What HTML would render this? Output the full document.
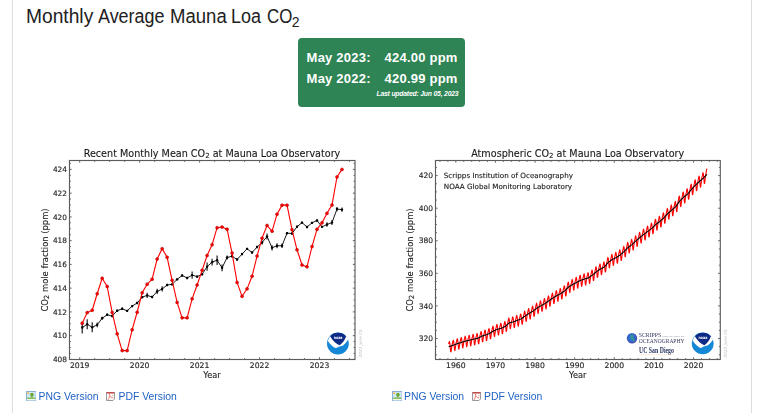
<!DOCTYPE html>
<html><head><meta charset="utf-8">
<style>
html,body{margin:0;padding:0;background:#fff;}
body{width:757px;height:413px;overflow:hidden;position:relative;font-family:"Liberation Sans",Arial,sans-serif;}
.vb{position:absolute;top:0;width:1px;height:413px;background:#dedede;}
h1{position:absolute;left:0;top:0;margin:0;font-weight:normal;font-size:20px;line-height:1;color:#212121;white-space:nowrap;}
.w{position:absolute;top:6.2px;transform-origin:0 0;}
h1 sub.w{font-size:14px;top:14.9px;vertical-align:baseline;}
.box{position:absolute;left:298px;top:38px;width:167px;height:68.5px;background:#2e8454;border-radius:4px;color:#fff;}
.row{position:absolute;font-weight:bold;font-size:13px;letter-spacing:0.22px;line-height:1;white-space:nowrap;}
.upd{position:absolute;right:6.6px;top:89px;font-weight:bold;font-style:italic;font-size:6.8px;letter-spacing:-0.19px;line-height:1;white-space:nowrap;}
svg{position:absolute;left:0;top:0;will-change:transform;}
.tl text{font-family:"DejaVu Sans",sans-serif;font-size:7.7px;fill:#262626;stroke:#262626;stroke-width:0.15px;}
.ttl{font-family:"DejaVu Sans",sans-serif;font-size:9.63px;fill:#1a1a1a;stroke:#1a1a1a;stroke-width:0.12px;}
.sub{font-size:7px;}
.yl{font-family:"DejaVu Sans",sans-serif;font-size:8.4px;fill:#1a1a1a;stroke:#1a1a1a;stroke-width:0.12px;}
.dt{font-family:"DejaVu Sans",sans-serif;font-size:4.25px;font-style:italic;fill:#bdbdbd;}
.sc{font-family:"DejaVu Sans",sans-serif;font-size:7.2px;fill:#1a1a1a;stroke:#1a1a1a;stroke-width:0.12px;}
.lk{position:absolute;top:391px;font-size:10.4px;color:#1f62c4;white-space:nowrap;line-height:12px;}
.ic{position:absolute;top:391px;width:10px;height:10px;}
</style></head><body>
<div class="vb" style="left:12px"></div>
<div class="vb" style="left:751px"></div>
<h1 id="ttl"><span class="w" style="left:26.1px;transform:scaleX(0.96)">Monthly</span> <span class="w" style="left:98.4px;transform:scaleX(0.896)">Average</span> <span class="w" style="left:169.7px;transform:scaleX(0.927)">Mauna</span> <span class="w" style="left:231.2px;transform:scaleX(0.898)">Loa</span> <span class="w" style="left:267.1px;transform:scaleX(0.845)">CO</span> <sub class="w" style="left:291.8px">2</sub></h1>
<div class="box">
<div class="row" style="left:8.6px;top:13.3px">May 2023:</div>
<div class="row" style="left:86.6px;top:13.3px">424.00 ppm</div>
<div class="row" style="left:8.6px;top:34px">May 2022:</div>
<div class="row" style="left:86.6px;top:34px">420.99 ppm</div>
<div class="upd" style="top:52.6px">Last updated: Jun 05, 2023</div>
</div>
<svg width="757" height="413" viewBox="0 0 757 413">
<path d="M79.70 359.5v-2.2M79.70 160.5v2.2M139.65 359.5v-2.2M139.65 160.5v2.2M199.60 359.5v-2.2M199.60 160.5v2.2M259.55 359.5v-2.2M259.55 160.5v2.2M319.50 359.5v-2.2M319.50 160.5v2.2M94.69 359.5v-1.4M94.69 160.5v1.4M109.68 359.5v-1.4M109.68 160.5v1.4M124.66 359.5v-1.4M124.66 160.5v1.4M154.64 359.5v-1.4M154.64 160.5v1.4M169.62 359.5v-1.4M169.62 160.5v1.4M184.61 359.5v-1.4M184.61 160.5v1.4M214.59 359.5v-1.4M214.59 160.5v1.4M229.57 359.5v-1.4M229.57 160.5v1.4M244.56 359.5v-1.4M244.56 160.5v1.4M274.54 359.5v-1.4M274.54 160.5v1.4M289.53 359.5v-1.4M289.53 160.5v1.4M304.51 359.5v-1.4M304.51 160.5v1.4M334.49 359.5v-1.4M334.49 160.5v1.4M349.48 359.5v-1.4M349.48 160.5v1.4M69.5 359.40h2.2M355.0 359.40h-2.2M69.5 335.65h2.2M355.0 335.65h-2.2M69.5 311.90h2.2M355.0 311.90h-2.2M69.5 288.15h2.2M355.0 288.15h-2.2M69.5 264.40h2.2M355.0 264.40h-2.2M69.5 240.65h2.2M355.0 240.65h-2.2M69.5 216.90h2.2M355.0 216.90h-2.2M69.5 193.15h2.2M355.0 193.15h-2.2M69.5 169.40h2.2M355.0 169.40h-2.2M69.5 353.46h1.4M355.0 353.46h-1.4M69.5 347.52h1.4M355.0 347.52h-1.4M69.5 341.59h1.4M355.0 341.59h-1.4M69.5 329.71h1.4M355.0 329.71h-1.4M69.5 323.77h1.4M355.0 323.77h-1.4M69.5 317.84h1.4M355.0 317.84h-1.4M69.5 305.96h1.4M355.0 305.96h-1.4M69.5 300.02h1.4M355.0 300.02h-1.4M69.5 294.09h1.4M355.0 294.09h-1.4M69.5 282.21h1.4M355.0 282.21h-1.4M69.5 276.27h1.4M355.0 276.27h-1.4M69.5 270.34h1.4M355.0 270.34h-1.4M69.5 258.46h1.4M355.0 258.46h-1.4M69.5 252.52h1.4M355.0 252.52h-1.4M69.5 246.59h1.4M355.0 246.59h-1.4M69.5 234.71h1.4M355.0 234.71h-1.4M69.5 228.77h1.4M355.0 228.77h-1.4M69.5 222.84h1.4M355.0 222.84h-1.4M69.5 210.96h1.4M355.0 210.96h-1.4M69.5 205.02h1.4M355.0 205.02h-1.4M69.5 199.09h1.4M355.0 199.09h-1.4M69.5 187.21h1.4M355.0 187.21h-1.4M69.5 181.27h1.4M355.0 181.27h-1.4M69.5 175.34h1.4M355.0 175.34h-1.4M69.5 163.46h1.4M355.0 163.46h-1.4" stroke="#444" stroke-width="0.8" fill="none"/>
<rect x="69.5" y="160.5" width="285.5" height="199.0" fill="none" stroke="#5c5c5c" stroke-width="1.15"/>
<path d="M82.20 321.64V333.51M87.19 319.26V329.24M92.19 322.35V332.33M97.19 322.47V327.22M102.18 316.77V319.62M107.18 313.56V315.94M112.17 314.87V317.24M117.17 309.52V311.90M122.16 307.62V310.00M127.16 309.64V312.02M132.16 304.89V307.27M137.15 301.81V304.18M142.15 295.99V298.36M147.14 292.78V298.01M152.14 295.87V298.24M157.14 288.86V294.09M162.13 286.37V291.59M167.13 283.87V286.25M172.12 283.16V285.54M177.12 278.17V280.55M182.11 274.26V276.63M187.11 276.87V279.24M192.11 271.52V278.65M197.10 275.44V277.82M202.10 273.07V275.44M207.09 262.62V270.69M212.09 258.82V265.47M217.09 255.49V264.99M222.08 264.40V271.29M227.08 255.49V259.53M232.07 255.02V257.39M237.07 258.34V260.72M242.06 252.88V255.26M247.06 247.66V250.03M252.06 251.34V253.71M257.05 245.87V248.25M262.05 240.53V244.57M267.04 233.52V239.46M272.04 245.16V250.39M277.04 243.14V248.37M282.03 243.62V247.89M287.03 231.98V234.36M292.02 232.34V234.71M297.02 225.57V227.94M302.01 221.41V223.79M307.01 225.81V228.18M312.01 221.65V224.03M317.00 219.27V221.65M322.00 225.69V228.06M326.99 222.36V226.64M331.99 220.11V225.09M336.99 206.92V211.20M341.98 207.52V211.79" stroke="#000" stroke-width="1.05"/>
<polyline points="82.20,327.57 87.19,324.25 92.19,327.34 97.19,324.84 102.18,318.19 107.18,314.75 112.17,316.06 117.17,310.71 122.16,308.81 127.16,310.83 132.16,306.08 137.15,302.99 142.15,297.17 147.14,295.39 152.14,297.06 157.14,291.47 162.13,288.98 167.13,285.06 172.12,284.35 177.12,279.36 182.11,275.44 187.11,278.06 192.11,275.09 197.10,276.63 202.10,274.26 207.09,266.66 212.09,262.14 217.09,260.24 222.08,267.84 227.08,257.51 232.07,256.21 237.07,259.53 242.06,254.07 247.06,248.84 252.06,252.52 257.05,247.06 262.05,242.55 267.04,236.49 272.04,247.78 277.04,245.76 282.03,245.76 287.03,233.17 292.02,233.52 297.02,226.76 302.01,222.60 307.01,226.99 312.01,222.84 317.00,220.46 322.00,226.87 326.99,224.50 331.99,222.60 336.99,209.06 341.98,209.66" fill="none" stroke="#000" stroke-width="0.9"/>
<circle cx="82.20" cy="327.57" r="1.2" fill="#000"/><circle cx="87.19" cy="324.25" r="1.2" fill="#000"/><circle cx="92.19" cy="327.34" r="1.2" fill="#000"/><circle cx="97.19" cy="324.84" r="1.2" fill="#000"/><circle cx="102.18" cy="318.19" r="1.2" fill="#000"/><circle cx="107.18" cy="314.75" r="1.2" fill="#000"/><circle cx="112.17" cy="316.06" r="1.2" fill="#000"/><circle cx="117.17" cy="310.71" r="1.2" fill="#000"/><circle cx="122.16" cy="308.81" r="1.2" fill="#000"/><circle cx="127.16" cy="310.83" r="1.2" fill="#000"/><circle cx="132.16" cy="306.08" r="1.2" fill="#000"/><circle cx="137.15" cy="302.99" r="1.2" fill="#000"/><circle cx="142.15" cy="297.17" r="1.2" fill="#000"/><circle cx="147.14" cy="295.39" r="1.2" fill="#000"/><circle cx="152.14" cy="297.06" r="1.2" fill="#000"/><circle cx="157.14" cy="291.47" r="1.2" fill="#000"/><circle cx="162.13" cy="288.98" r="1.2" fill="#000"/><circle cx="167.13" cy="285.06" r="1.2" fill="#000"/><circle cx="172.12" cy="284.35" r="1.2" fill="#000"/><circle cx="177.12" cy="279.36" r="1.2" fill="#000"/><circle cx="182.11" cy="275.44" r="1.2" fill="#000"/><circle cx="187.11" cy="278.06" r="1.2" fill="#000"/><circle cx="192.11" cy="275.09" r="1.2" fill="#000"/><circle cx="197.10" cy="276.63" r="1.2" fill="#000"/><circle cx="202.10" cy="274.26" r="1.2" fill="#000"/><circle cx="207.09" cy="266.66" r="1.2" fill="#000"/><circle cx="212.09" cy="262.14" r="1.2" fill="#000"/><circle cx="217.09" cy="260.24" r="1.2" fill="#000"/><circle cx="222.08" cy="267.84" r="1.2" fill="#000"/><circle cx="227.08" cy="257.51" r="1.2" fill="#000"/><circle cx="232.07" cy="256.21" r="1.2" fill="#000"/><circle cx="237.07" cy="259.53" r="1.2" fill="#000"/><circle cx="242.06" cy="254.07" r="1.2" fill="#000"/><circle cx="247.06" cy="248.84" r="1.2" fill="#000"/><circle cx="252.06" cy="252.52" r="1.2" fill="#000"/><circle cx="257.05" cy="247.06" r="1.2" fill="#000"/><circle cx="262.05" cy="242.55" r="1.2" fill="#000"/><circle cx="267.04" cy="236.49" r="1.2" fill="#000"/><circle cx="272.04" cy="247.78" r="1.2" fill="#000"/><circle cx="277.04" cy="245.76" r="1.2" fill="#000"/><circle cx="282.03" cy="245.76" r="1.2" fill="#000"/><circle cx="287.03" cy="233.17" r="1.2" fill="#000"/><circle cx="292.02" cy="233.52" r="1.2" fill="#000"/><circle cx="297.02" cy="226.76" r="1.2" fill="#000"/><circle cx="302.01" cy="222.60" r="1.2" fill="#000"/><circle cx="307.01" cy="226.99" r="1.2" fill="#000"/><circle cx="312.01" cy="222.84" r="1.2" fill="#000"/><circle cx="317.00" cy="220.46" r="1.2" fill="#000"/><circle cx="322.00" cy="226.87" r="1.2" fill="#000"/><circle cx="326.99" cy="224.50" r="1.2" fill="#000"/><circle cx="331.99" cy="222.60" r="1.2" fill="#000"/><circle cx="336.99" cy="209.06" r="1.2" fill="#000"/><circle cx="341.98" cy="209.66" r="1.2" fill="#000"/>
<polyline points="82.20,323.30 87.19,312.61 92.19,310.24 97.19,293.73 102.18,278.29 107.18,286.49 112.17,312.38 117.17,333.87 122.16,350.61 127.16,350.61 132.16,329.71 137.15,312.26 142.15,292.78 147.14,284.23 152.14,279.13 157.14,259.06 162.13,248.73 167.13,257.27 172.12,280.31 177.12,302.40 182.11,317.84 187.11,317.84 192.11,298.84 197.10,284.94 202.10,270.34 207.09,255.49 212.09,244.69 217.09,227.71 222.08,227.11 227.08,229.25 232.07,253.12 237.07,282.45 242.06,296.34 247.06,288.86 252.06,276.27 257.05,256.09 262.05,238.16 267.04,225.45 272.04,231.15 277.04,214.17 282.03,205.14 287.03,205.14 292.02,229.72 297.02,249.79 302.01,264.99 307.01,266.77 312.01,246.59 317.00,229.25 322.00,222.84 326.99,213.34 331.99,205.02 336.99,176.88 341.98,169.40" fill="none" stroke="#f00" stroke-width="1.1"/>
<circle cx="82.20" cy="323.30" r="1.5" fill="#f00" stroke="#a00" stroke-width="0.5"/><circle cx="87.19" cy="312.61" r="1.5" fill="#f00" stroke="#a00" stroke-width="0.5"/><circle cx="92.19" cy="310.24" r="1.5" fill="#f00" stroke="#a00" stroke-width="0.5"/><circle cx="97.19" cy="293.73" r="1.5" fill="#f00" stroke="#a00" stroke-width="0.5"/><circle cx="102.18" cy="278.29" r="1.5" fill="#f00" stroke="#a00" stroke-width="0.5"/><circle cx="107.18" cy="286.49" r="1.5" fill="#f00" stroke="#a00" stroke-width="0.5"/><circle cx="112.17" cy="312.38" r="1.5" fill="#f00" stroke="#a00" stroke-width="0.5"/><circle cx="117.17" cy="333.87" r="1.5" fill="#f00" stroke="#a00" stroke-width="0.5"/><circle cx="122.16" cy="350.61" r="1.5" fill="#f00" stroke="#a00" stroke-width="0.5"/><circle cx="127.16" cy="350.61" r="1.5" fill="#f00" stroke="#a00" stroke-width="0.5"/><circle cx="132.16" cy="329.71" r="1.5" fill="#f00" stroke="#a00" stroke-width="0.5"/><circle cx="137.15" cy="312.26" r="1.5" fill="#f00" stroke="#a00" stroke-width="0.5"/><circle cx="142.15" cy="292.78" r="1.5" fill="#f00" stroke="#a00" stroke-width="0.5"/><circle cx="147.14" cy="284.23" r="1.5" fill="#f00" stroke="#a00" stroke-width="0.5"/><circle cx="152.14" cy="279.13" r="1.5" fill="#f00" stroke="#a00" stroke-width="0.5"/><circle cx="157.14" cy="259.06" r="1.5" fill="#f00" stroke="#a00" stroke-width="0.5"/><circle cx="162.13" cy="248.73" r="1.5" fill="#f00" stroke="#a00" stroke-width="0.5"/><circle cx="167.13" cy="257.27" r="1.5" fill="#f00" stroke="#a00" stroke-width="0.5"/><circle cx="172.12" cy="280.31" r="1.5" fill="#f00" stroke="#a00" stroke-width="0.5"/><circle cx="177.12" cy="302.40" r="1.5" fill="#f00" stroke="#a00" stroke-width="0.5"/><circle cx="182.11" cy="317.84" r="1.5" fill="#f00" stroke="#a00" stroke-width="0.5"/><circle cx="187.11" cy="317.84" r="1.5" fill="#f00" stroke="#a00" stroke-width="0.5"/><circle cx="192.11" cy="298.84" r="1.5" fill="#f00" stroke="#a00" stroke-width="0.5"/><circle cx="197.10" cy="284.94" r="1.5" fill="#f00" stroke="#a00" stroke-width="0.5"/><circle cx="202.10" cy="270.34" r="1.5" fill="#f00" stroke="#a00" stroke-width="0.5"/><circle cx="207.09" cy="255.49" r="1.5" fill="#f00" stroke="#a00" stroke-width="0.5"/><circle cx="212.09" cy="244.69" r="1.5" fill="#f00" stroke="#a00" stroke-width="0.5"/><circle cx="217.09" cy="227.71" r="1.5" fill="#f00" stroke="#a00" stroke-width="0.5"/><circle cx="222.08" cy="227.11" r="1.5" fill="#f00" stroke="#a00" stroke-width="0.5"/><circle cx="227.08" cy="229.25" r="1.5" fill="#f00" stroke="#a00" stroke-width="0.5"/><circle cx="232.07" cy="253.12" r="1.5" fill="#f00" stroke="#a00" stroke-width="0.5"/><circle cx="237.07" cy="282.45" r="1.5" fill="#f00" stroke="#a00" stroke-width="0.5"/><circle cx="242.06" cy="296.34" r="1.5" fill="#f00" stroke="#a00" stroke-width="0.5"/><circle cx="247.06" cy="288.86" r="1.5" fill="#f00" stroke="#a00" stroke-width="0.5"/><circle cx="252.06" cy="276.27" r="1.5" fill="#f00" stroke="#a00" stroke-width="0.5"/><circle cx="257.05" cy="256.09" r="1.5" fill="#f00" stroke="#a00" stroke-width="0.5"/><circle cx="262.05" cy="238.16" r="1.5" fill="#f00" stroke="#a00" stroke-width="0.5"/><circle cx="267.04" cy="225.45" r="1.5" fill="#f00" stroke="#a00" stroke-width="0.5"/><circle cx="272.04" cy="231.15" r="1.5" fill="#f00" stroke="#a00" stroke-width="0.5"/><circle cx="277.04" cy="214.17" r="1.5" fill="#f00" stroke="#a00" stroke-width="0.5"/><circle cx="282.03" cy="205.14" r="1.5" fill="#f00" stroke="#a00" stroke-width="0.5"/><circle cx="287.03" cy="205.14" r="1.5" fill="#f00" stroke="#a00" stroke-width="0.5"/><circle cx="292.02" cy="229.72" r="1.5" fill="#f00" stroke="#a00" stroke-width="0.5"/><circle cx="297.02" cy="249.79" r="1.5" fill="#f00" stroke="#a00" stroke-width="0.5"/><circle cx="302.01" cy="264.99" r="1.5" fill="#f00" stroke="#a00" stroke-width="0.5"/><circle cx="307.01" cy="266.77" r="1.5" fill="#f00" stroke="#a00" stroke-width="0.5"/><circle cx="312.01" cy="246.59" r="1.5" fill="#f00" stroke="#a00" stroke-width="0.5"/><circle cx="317.00" cy="229.25" r="1.5" fill="#f00" stroke="#a00" stroke-width="0.5"/><circle cx="322.00" cy="222.84" r="1.5" fill="#f00" stroke="#a00" stroke-width="0.5"/><circle cx="326.99" cy="213.34" r="1.5" fill="#f00" stroke="#a00" stroke-width="0.5"/><circle cx="331.99" cy="205.02" r="1.5" fill="#f00" stroke="#a00" stroke-width="0.5"/><circle cx="336.99" cy="176.88" r="1.5" fill="#f00" stroke="#a00" stroke-width="0.5"/><circle cx="341.98" cy="169.40" r="1.5" fill="#f00" stroke="#a00" stroke-width="0.5"/>
<g class="tl"><text x="67" y="362.05" text-anchor="end" style="font-size:7.4px">408</text><text x="67" y="338.30" text-anchor="end" style="font-size:7.4px">410</text><text x="67" y="314.55" text-anchor="end" style="font-size:7.4px">412</text><text x="67" y="290.80" text-anchor="end" style="font-size:7.4px">414</text><text x="67" y="267.05" text-anchor="end" style="font-size:7.4px">416</text><text x="67" y="243.30" text-anchor="end" style="font-size:7.4px">418</text><text x="67" y="219.55" text-anchor="end" style="font-size:7.4px">420</text><text x="67" y="195.80" text-anchor="end" style="font-size:7.4px">422</text><text x="67" y="172.05" text-anchor="end" style="font-size:7.4px">424</text><text x="79.70" y="368" text-anchor="middle">2019</text><text x="139.65" y="368" text-anchor="middle">2020</text><text x="199.60" y="368" text-anchor="middle">2021</text><text x="259.55" y="368" text-anchor="middle">2022</text><text x="319.50" y="368" text-anchor="middle">2023</text></g>
<text class="ttl" x="212" y="156.9" text-anchor="middle">Recent Monthly Mean CO<tspan class="sub" dy="1.5">2</tspan><tspan dy="-1.5"> at Mauna Loa Observatory</tspan></text>
<text class="yl" transform="translate(47.5 260) rotate(-90)" text-anchor="middle">CO<tspan class="sub" dy="1.2">2</tspan><tspan dy="-1.2"> mole fraction (ppm)</tspan></text>
<text class="yl" x="212" y="377.9" text-anchor="middle" style="font-size:8.2px">Year</text>
<text class="dt" transform="translate(361.8 343.4) rotate(-90)" text-anchor="middle">2023 June 05</text>
<path d="M455.80 359.5v-2.2M455.80 160.5v2.2M495.43 359.5v-2.2M495.43 160.5v2.2M535.06 359.5v-2.2M535.06 160.5v2.2M574.69 359.5v-2.2M574.69 160.5v2.2M614.32 359.5v-2.2M614.32 160.5v2.2M653.95 359.5v-2.2M653.95 160.5v2.2M693.58 359.5v-2.2M693.58 160.5v2.2M439.95 359.5v-1.4M439.95 160.5v1.4M447.87 359.5v-1.4M447.87 160.5v1.4M463.73 359.5v-1.4M463.73 160.5v1.4M471.65 359.5v-1.4M471.65 160.5v1.4M479.58 359.5v-1.4M479.58 160.5v1.4M487.50 359.5v-1.4M487.50 160.5v1.4M503.36 359.5v-1.4M503.36 160.5v1.4M511.28 359.5v-1.4M511.28 160.5v1.4M519.21 359.5v-1.4M519.21 160.5v1.4M527.13 359.5v-1.4M527.13 160.5v1.4M542.99 359.5v-1.4M542.99 160.5v1.4M550.91 359.5v-1.4M550.91 160.5v1.4M558.84 359.5v-1.4M558.84 160.5v1.4M566.76 359.5v-1.4M566.76 160.5v1.4M582.62 359.5v-1.4M582.62 160.5v1.4M590.54 359.5v-1.4M590.54 160.5v1.4M598.47 359.5v-1.4M598.47 160.5v1.4M606.39 359.5v-1.4M606.39 160.5v1.4M622.25 359.5v-1.4M622.25 160.5v1.4M630.17 359.5v-1.4M630.17 160.5v1.4M638.10 359.5v-1.4M638.10 160.5v1.4M646.02 359.5v-1.4M646.02 160.5v1.4M661.88 359.5v-1.4M661.88 160.5v1.4M669.80 359.5v-1.4M669.80 160.5v1.4M677.73 359.5v-1.4M677.73 160.5v1.4M685.65 359.5v-1.4M685.65 160.5v1.4M701.51 359.5v-1.4M701.51 160.5v1.4M709.43 359.5v-1.4M709.43 160.5v1.4M717.36 359.5v-1.4M717.36 160.5v1.4M435.5 338.50h2.2M720.3 338.50h-2.2M435.5 305.92h2.2M720.3 305.92h-2.2M435.5 273.34h2.2M720.3 273.34h-2.2M435.5 240.76h2.2M720.3 240.76h-2.2M435.5 208.18h2.2M720.3 208.18h-2.2M435.5 175.60h2.2M720.3 175.60h-2.2M435.5 354.79h1.4M720.3 354.79h-1.4M435.5 346.64h1.4M720.3 346.64h-1.4M435.5 330.36h1.4M720.3 330.36h-1.4M435.5 322.21h1.4M720.3 322.21h-1.4M435.5 314.06h1.4M720.3 314.06h-1.4M435.5 297.77h1.4M720.3 297.77h-1.4M435.5 289.63h1.4M720.3 289.63h-1.4M435.5 281.49h1.4M720.3 281.49h-1.4M435.5 265.19h1.4M720.3 265.19h-1.4M435.5 257.05h1.4M720.3 257.05h-1.4M435.5 248.91h1.4M720.3 248.91h-1.4M435.5 232.62h1.4M720.3 232.62h-1.4M435.5 224.47h1.4M720.3 224.47h-1.4M435.5 216.32h1.4M720.3 216.32h-1.4M435.5 200.03h1.4M720.3 200.03h-1.4M435.5 191.89h1.4M720.3 191.89h-1.4M435.5 183.75h1.4M720.3 183.75h-1.4M435.5 167.46h1.4M720.3 167.46h-1.4" stroke="#444" stroke-width="0.8" fill="none"/>
<rect x="435.5" y="160.5" width="284.79999999999995" height="199.0" fill="none" stroke="#5c5c5c" stroke-width="1.15"/>
<polyline points="448.70,344.04 449.03,342.32 449.36,341.50 449.69,342.46 450.02,345.03 450.35,348.67 450.68,351.60 451.01,351.85 451.34,349.60 451.67,347.35 452.00,345.09 452.33,343.73 452.66,342.73 452.99,341.01 453.32,340.18 453.65,341.15 453.98,343.75 454.31,347.38 454.64,350.30 454.97,350.53 455.30,348.26 455.63,345.98 455.97,343.71 456.30,342.32 456.63,341.30 456.96,339.56 457.29,338.72 457.62,339.67 457.95,342.24 458.28,345.91 458.61,348.86 458.94,349.13 459.27,346.87 459.60,344.62 459.93,342.37 460.26,341.01 460.59,340.01 460.92,338.29 461.25,337.48 461.58,338.45 461.91,341.05 462.24,344.71 462.57,347.66 462.90,347.91 463.23,345.64 463.56,343.37 463.89,341.10 464.22,339.73 464.55,338.72 464.88,336.99 465.21,336.16 465.54,337.13 465.87,339.74 466.20,343.45 466.53,346.45 466.86,346.73 467.19,344.50 467.52,342.26 467.85,340.02 468.18,338.69 468.51,337.71 468.84,336.01 469.18,335.21 469.51,336.22 469.84,338.85 470.17,342.56 470.50,345.55 470.83,345.83 471.16,343.57 471.49,341.32 471.82,339.06 472.15,337.71 472.48,336.72 472.81,335.01 473.14,334.20 473.47,335.19 473.80,337.84 474.13,341.58 474.46,344.61 474.79,344.91 475.12,342.68 475.45,340.45 475.78,338.22 476.11,336.89 476.44,335.93 476.77,334.24 477.10,333.46 477.43,334.49 477.76,337.09 478.09,340.72 478.42,343.63 478.75,343.81 479.08,341.45 479.41,339.09 479.74,336.73 480.07,335.28 480.40,334.19 480.73,332.37 481.06,331.46 481.39,332.37 481.72,334.96 482.05,338.66 482.39,341.65 482.72,341.90 483.05,339.61 483.38,337.32 483.71,335.02 484.04,333.64 484.37,332.62 484.70,330.87 485.03,330.03 485.36,331.01 485.69,333.63 486.02,337.34 486.35,340.32 486.68,340.57 487.01,338.26 487.34,335.96 487.67,333.65 488.00,332.25 488.33,331.22 488.66,329.46 488.99,328.61 489.32,329.59 489.65,332.16 489.98,335.78 490.31,338.68 490.64,338.83 490.97,336.43 491.30,334.02 491.63,331.61 491.96,330.12 492.29,328.99 492.62,327.13 492.95,326.18 493.28,327.07 493.61,329.64 493.94,333.34 494.27,336.31 494.60,336.53 494.93,334.19 495.26,331.85 495.60,329.50 495.93,328.08 496.26,327.02 496.59,325.22 496.92,324.34 497.25,325.30 497.58,327.93 497.91,331.70 498.24,334.74 498.57,335.02 498.90,332.73 499.23,330.44 499.56,328.15 499.89,326.77 500.22,325.77 500.55,324.03 500.88,323.20 501.21,324.22 501.54,326.86 501.87,330.56 502.20,333.54 502.53,333.75 502.86,331.39 503.19,329.03 503.52,326.66 503.85,325.22 504.18,324.14 504.51,322.33 504.84,321.44 505.17,322.39 505.50,324.92 505.83,328.49 506.16,331.32 506.49,331.39 506.82,328.88 507.15,326.37 507.48,323.85 507.81,322.26 508.14,321.03 508.47,319.07 508.81,318.03 509.14,318.83 509.47,321.42 509.80,325.23 510.13,328.30 510.46,328.60 510.79,326.32 511.12,324.03 511.45,321.74 511.78,320.38 512.11,319.38 512.44,317.65 512.77,316.84 513.10,317.88 513.43,320.56 513.76,324.32 514.09,327.34 514.42,327.58 514.75,325.23 515.08,322.88 515.41,320.53 515.74,319.11 516.07,318.05 516.40,316.25 516.73,315.38 517.06,316.37 517.39,319.02 517.72,322.80 518.05,325.83 518.38,326.08 518.71,323.73 519.04,321.38 519.37,319.03 519.70,317.61 520.03,316.56 520.36,314.76 520.69,313.90 521.02,314.89 521.35,317.49 521.68,321.15 522.02,324.07 522.35,324.20 522.68,321.72 523.01,319.24 523.34,316.76 523.67,315.21 524.00,314.04 524.33,312.11 524.66,311.12 524.99,311.99 525.32,314.56 525.65,318.26 525.98,321.22 526.31,321.38 526.64,318.93 526.97,316.48 527.30,314.03 527.63,312.51 527.96,311.36 528.29,309.47 528.62,308.51 528.95,309.41 529.28,312.01 529.61,315.74 529.94,318.72 530.27,318.90 530.60,316.46 530.93,314.03 531.26,311.59 531.59,310.09 531.92,308.96 532.25,307.08 532.58,306.14 532.91,307.06 533.24,309.64 533.57,313.31 533.90,316.24 534.23,316.35 534.56,313.84 534.89,311.34 535.23,308.83 535.56,307.25 535.89,306.06 536.22,304.11 536.55,303.10 536.88,303.96 537.21,306.55 537.54,310.30 537.87,313.31 538.20,313.50 538.53,311.07 538.86,308.63 539.19,306.19 539.52,304.69 539.85,303.57 540.18,301.69 540.51,300.76 540.84,301.70 541.17,304.33 541.50,308.10 541.83,311.11 542.16,311.30 542.49,308.86 542.82,306.42 543.15,303.98 543.48,302.47 543.81,301.35 544.14,299.47 544.47,298.53 544.80,299.47 545.13,302.09 545.46,305.82 545.79,308.80 546.12,308.95 546.45,306.46 546.78,303.97 547.11,301.49 547.44,299.94 547.77,298.77 548.10,296.84 548.44,295.86 548.77,296.77 549.10,299.37 549.43,303.10 549.76,306.07 550.09,306.22 550.42,303.72 550.75,301.22 551.08,298.72 551.41,297.16 551.74,295.98 552.07,294.05 552.40,293.06 552.73,293.96 553.06,296.58 553.39,300.35 553.72,303.37 554.05,303.55 554.38,301.07 554.71,298.60 555.04,296.13 555.37,294.60 555.70,293.45 556.03,291.55 556.36,290.59 556.69,291.52 557.02,294.18 557.35,297.99 557.68,301.04 558.01,301.25 558.34,298.81 558.67,296.36 559.00,293.91 559.33,292.41 559.66,291.29 559.99,289.41 560.32,288.48 560.65,289.45 560.98,292.09 561.31,295.85 561.65,298.85 561.98,299.00 562.31,296.49 562.64,293.98 562.97,291.47 563.30,289.91 563.63,288.72 563.96,286.78 564.29,285.79 564.62,286.70 564.95,289.28 565.28,292.95 565.61,295.87 565.94,295.93 566.27,293.32 566.60,290.71 566.93,288.10 567.26,286.44 567.59,285.16 567.92,283.12 568.25,282.04 568.58,282.86 568.91,285.45 569.24,289.26 569.57,292.30 569.90,292.48 570.23,289.98 570.56,287.48 570.89,284.99 571.22,283.45 571.55,282.28 571.88,280.36 572.21,279.39 572.54,280.33 572.87,283.01 573.20,286.86 573.53,289.94 573.86,290.15 574.19,287.69 574.52,285.22 574.86,282.76 575.19,281.25 575.52,280.12 575.85,278.22 576.18,277.29 576.51,278.27 576.84,280.97 577.17,284.83 577.50,287.92 577.83,288.13 578.16,285.66 578.49,283.19 578.82,280.72 579.15,279.21 579.48,278.08 579.81,276.18 580.14,275.24 580.47,276.22 580.80,278.96 581.13,282.88 581.46,286.03 581.79,286.30 582.12,283.88 582.45,281.46 582.78,279.04 583.11,277.58 583.44,276.51 583.77,274.66 584.10,273.78 584.43,274.82 584.76,277.60 585.09,281.55 585.42,284.73 585.75,285.03 586.08,282.63 586.41,280.23 586.74,277.82 587.07,276.38 587.40,275.33 587.73,273.50 588.07,272.64 588.40,273.70 588.73,276.43 589.06,280.25 589.39,283.29 589.72,283.44 590.05,280.88 590.38,278.33 590.71,275.78 591.04,274.19 591.37,272.98 591.70,271.01 592.03,270.00 592.36,270.92 592.69,273.56 593.02,277.35 593.35,280.36 593.68,280.48 594.01,277.88 594.34,275.29 594.67,272.70 595.00,271.07 595.33,269.83 595.66,267.81 595.99,266.76 596.32,267.65 596.65,270.30 596.98,274.13 597.31,277.18 597.64,277.33 597.97,274.76 598.30,272.20 598.63,269.63 598.96,268.03 599.29,266.82 599.62,264.84 599.95,263.82 600.28,264.74 600.61,267.46 600.94,271.38 601.28,274.52 601.61,274.76 601.94,272.27 602.27,269.79 602.60,267.30 602.93,265.79 603.26,264.66 603.59,262.76 603.92,261.82 604.25,262.84 604.58,265.47 604.91,269.16 605.24,272.06 605.57,272.05 605.90,269.31 606.23,266.58 606.56,263.84 606.89,262.07 607.22,260.70 607.55,258.54 607.88,257.36 608.21,258.13 608.54,260.73 608.87,264.60 609.20,267.68 609.53,267.84 609.86,265.27 610.19,262.70 610.52,260.13 610.85,258.53 611.18,257.32 611.51,255.34 611.84,254.32 612.17,255.26 612.50,258.00 612.83,261.94 613.16,265.10 613.49,265.34 613.82,262.83 614.15,260.33 614.49,257.83 614.82,256.30 615.15,255.16 615.48,253.24 615.81,252.30 616.14,253.31 616.47,256.06 616.80,259.95 617.13,263.06 617.46,263.24 617.79,260.67 618.12,258.10 618.45,255.53 618.78,253.94 619.11,252.74 619.44,250.76 619.77,249.75 620.10,250.71 620.43,253.40 620.76,257.23 621.09,260.27 621.42,260.38 621.75,257.74 622.08,255.09 622.41,252.45 622.74,250.78 623.07,249.51 623.40,247.46 623.73,246.38 624.06,247.27 624.39,249.90 624.72,253.68 625.05,256.68 625.38,256.73 625.71,254.03 626.04,251.33 626.37,248.62 626.70,246.90 627.03,245.58 627.36,243.46 627.70,242.33 628.03,243.17 628.36,245.83 628.69,249.73 629.02,252.85 629.35,253.01 629.68,250.41 630.01,247.81 630.34,245.22 630.67,243.60 631.00,242.38 631.33,240.37 631.66,239.35 631.99,240.30 632.32,242.99 632.65,246.82 632.98,249.87 633.31,249.96 633.64,247.28 633.97,244.60 634.30,241.92 634.63,240.23 634.96,238.93 635.29,236.84 635.62,235.74 635.95,236.61 636.28,239.28 636.61,243.15 636.94,246.22 637.27,246.34 637.60,243.68 637.93,241.01 638.26,238.35 638.59,236.68 638.92,235.40 639.25,233.33 639.58,232.26 639.91,233.16 640.24,235.85 640.57,239.75 640.91,242.86 641.24,243.00 641.57,240.36 641.90,237.72 642.23,235.07 642.56,233.42 642.89,232.17 643.22,230.12 643.55,229.06 643.88,229.99 644.21,232.72 644.54,236.64 644.87,239.77 645.20,239.92 645.53,237.29 645.86,234.67 646.19,232.03 646.52,230.40 646.85,229.16 647.18,227.12 647.51,226.08 647.84,227.03 648.17,229.76 648.50,233.70 648.83,236.84 649.16,236.99 649.49,234.35 649.82,231.72 650.15,229.08 650.48,227.44 650.81,226.20 651.14,224.16 651.47,223.12 651.80,224.07 652.13,226.77 652.46,230.62 652.79,233.68 653.12,233.74 653.45,231.02 653.78,228.29 654.12,225.56 654.45,223.83 654.78,222.50 655.11,220.37 655.44,219.23 655.77,220.10 656.10,222.81 656.43,226.76 656.76,229.92 657.09,230.09 657.42,227.45 657.75,224.82 658.08,222.18 658.41,220.54 658.74,219.30 659.07,217.27 659.40,216.23 659.73,217.19 660.06,219.92 660.39,223.83 660.72,226.93 661.05,227.03 661.38,224.33 661.71,221.63 662.04,218.92 662.37,217.22 662.70,215.92 663.03,213.81 663.36,212.71 663.69,213.61 664.02,216.29 664.35,220.14 664.68,223.18 665.01,223.22 665.34,220.45 665.67,217.68 666.00,214.91 666.33,213.14 666.66,211.77 666.99,209.60 667.33,208.43 667.66,209.27 667.99,211.96 668.32,215.90 668.65,219.04 668.98,219.16 669.31,216.47 669.64,213.77 669.97,211.08 670.30,209.39 670.63,208.10 670.96,206.01 671.29,204.92 671.62,205.85 671.95,208.58 672.28,212.51 672.61,215.63 672.94,215.74 673.27,213.02 673.60,210.31 673.93,207.59 674.26,205.88 674.59,204.57 674.92,202.46 675.25,201.35 675.58,202.26 675.91,204.91 676.24,208.69 676.57,211.66 676.90,211.60 677.23,208.72 677.56,205.83 677.89,202.95 678.22,201.07 678.55,199.60 678.88,197.32 679.21,196.05 679.54,196.80 679.87,199.44 680.20,203.37 680.54,206.49 680.87,206.57 681.20,203.83 681.53,201.08 681.86,198.33 682.19,196.60 682.52,195.26 682.85,193.12 683.18,191.99 683.51,192.89 683.84,195.63 684.17,199.62 684.50,202.80 684.83,202.94 685.16,200.25 685.49,197.55 685.82,194.85 686.15,193.16 686.48,191.88 686.81,189.79 687.14,188.71 687.47,189.66 687.80,192.37 688.13,196.24 688.46,199.29 688.79,199.30 689.12,196.46 689.45,193.63 689.78,190.79 690.11,188.97 690.44,187.55 690.77,185.32 691.10,184.11 691.43,184.93 691.76,187.60 692.09,191.53 692.42,194.64 692.75,194.69 693.08,191.90 693.41,189.11 693.75,186.32 694.08,184.54 694.41,183.17 694.74,180.99 695.07,179.82 695.40,180.69 695.73,183.42 696.06,187.40 696.39,190.57 696.72,190.68 697.05,187.93 697.38,185.19 697.71,182.44 698.04,180.71 698.37,179.39 698.70,177.25 699.03,176.13 699.36,177.06 699.69,179.83 700.02,183.83 700.35,187.02 700.68,187.14 701.01,184.40 701.34,181.66 701.67,178.92 702.00,177.21 702.33,175.90 702.66,173.77 702.99,172.66 703.32,173.60 703.65,176.36 703.98,180.31 704.31,183.45 704.64,183.51 704.97,180.71 705.30,177.91 705.63,175.11 705.96,173.33 706.29,171.96 706.62,169.77 706.96,168.60" fill="none" stroke="#f00" stroke-width="1.1" stroke-linejoin="round"/>
<polyline points="448.70,346.70 449.03,346.59 449.36,346.48 449.69,346.37 450.02,346.26 450.35,346.16 450.68,346.05 451.01,345.94 451.34,345.83 451.67,345.72 452.00,345.61 452.33,345.50 452.66,345.40 452.99,345.29 453.32,345.18 453.65,345.07 453.98,344.99 454.31,344.86 454.64,344.73 454.97,344.61 455.30,344.48 455.63,344.35 455.97,344.23 456.30,344.10 456.63,343.98 456.96,343.85 457.29,343.72 457.62,343.60 457.95,343.48 458.28,343.38 458.61,343.29 458.94,343.19 459.27,343.09 459.60,342.99 459.93,342.89 460.26,342.79 460.59,342.69 460.92,342.59 461.25,342.49 461.58,342.39 461.91,342.29 462.24,342.18 462.57,342.07 462.90,341.96 463.23,341.85 463.56,341.74 463.89,341.63 464.22,341.52 464.55,341.41 464.88,341.30 465.21,341.19 465.54,341.08 465.87,340.99 466.20,340.91 466.53,340.84 466.86,340.77 467.19,340.70 467.52,340.62 467.85,340.55 468.18,340.48 468.51,340.40 468.84,340.33 469.18,340.26 469.51,340.18 469.84,340.10 470.17,340.02 470.50,339.93 470.83,339.85 471.16,339.76 471.49,339.67 471.82,339.59 472.15,339.50 472.48,339.42 472.81,339.33 473.14,339.25 473.47,339.16 473.80,339.09 474.13,339.03 474.46,338.98 474.79,338.92 475.12,338.86 475.45,338.81 475.78,338.75 476.11,338.69 476.44,338.63 476.77,338.58 477.10,338.52 477.43,338.46 477.76,338.34 478.09,338.16 478.42,337.98 478.75,337.80 479.08,337.62 479.41,337.44 479.74,337.26 480.07,337.08 480.40,336.90 480.73,336.72 481.06,336.54 481.39,336.36 481.72,336.21 482.05,336.10 482.39,335.99 482.72,335.88 483.05,335.77 483.38,335.66 483.71,335.55 484.04,335.44 484.37,335.33 484.70,335.22 485.03,335.11 485.36,335.00 485.69,334.89 486.02,334.77 486.35,334.65 486.68,334.54 487.01,334.42 487.34,334.30 487.67,334.18 488.00,334.06 488.33,333.94 488.66,333.83 488.99,333.71 489.32,333.59 489.65,333.42 489.98,333.21 490.31,333.00 490.64,332.79 490.97,332.57 491.30,332.36 491.63,332.15 491.96,331.93 492.29,331.72 492.62,331.51 492.95,331.29 493.28,331.08 493.61,330.90 493.94,330.76 494.27,330.61 494.60,330.47 494.93,330.33 495.26,330.18 495.60,330.04 495.93,329.89 496.26,329.75 496.59,329.61 496.92,329.46 497.25,329.32 497.58,329.20 497.91,329.12 498.24,329.03 498.57,328.94 498.90,328.86 499.23,328.77 499.56,328.68 499.89,328.60 500.22,328.51 500.55,328.42 500.88,328.34 501.21,328.25 501.54,328.13 501.87,327.97 502.20,327.82 502.53,327.66 502.86,327.51 503.19,327.35 503.52,327.20 503.85,327.04 504.18,326.89 504.51,326.73 504.84,326.58 505.17,326.43 505.50,326.20 505.83,325.90 506.16,325.59 506.49,325.29 506.82,324.99 507.15,324.69 507.48,324.39 507.81,324.09 508.14,323.79 508.47,323.48 508.81,323.18 509.14,322.88 509.47,322.70 509.80,322.63 510.13,322.56 510.46,322.49 510.79,322.42 511.12,322.35 511.45,322.28 511.78,322.21 512.11,322.14 512.44,322.07 512.77,322.00 513.10,321.94 513.43,321.84 513.76,321.71 514.09,321.58 514.42,321.45 514.75,321.33 515.08,321.20 515.41,321.07 515.74,320.94 516.07,320.82 516.40,320.69 516.73,320.56 517.06,320.43 517.39,320.31 517.72,320.19 518.05,320.06 518.38,319.94 518.71,319.82 519.04,319.70 519.37,319.58 519.70,319.45 520.03,319.33 520.36,319.21 520.69,319.09 521.02,318.96 521.35,318.78 521.68,318.53 522.02,318.29 522.35,318.04 522.68,317.80 523.01,317.55 523.34,317.31 523.67,317.06 524.00,316.81 524.33,316.57 524.66,316.32 524.99,316.08 525.32,315.85 525.65,315.63 525.98,315.42 526.31,315.21 526.64,315.00 526.97,314.78 527.30,314.57 527.63,314.36 527.96,314.14 528.29,313.93 528.62,313.72 528.95,313.50 529.28,313.30 529.61,313.11 529.94,312.91 530.27,312.72 530.60,312.52 530.93,312.33 531.26,312.14 531.59,311.94 531.92,311.75 532.25,311.55 532.58,311.36 532.91,311.16 533.24,310.94 533.57,310.68 533.90,310.42 534.23,310.16 534.56,309.89 534.89,309.63 535.23,309.37 535.56,309.11 535.89,308.85 536.22,308.59 536.55,308.33 536.88,308.07 537.21,307.85 537.54,307.66 537.87,307.48 538.20,307.29 538.53,307.11 538.86,306.92 539.19,306.74 539.52,306.56 539.85,306.37 540.18,306.19 540.51,306.00 540.84,305.82 541.17,305.63 541.50,305.45 541.83,305.26 542.16,305.08 542.49,304.89 542.82,304.71 543.15,304.52 543.48,304.34 543.81,304.16 544.14,303.97 544.47,303.79 544.80,303.60 545.13,303.40 545.46,303.17 545.79,302.94 546.12,302.72 546.45,302.49 546.78,302.26 547.11,302.04 547.44,301.81 547.77,301.58 548.10,301.36 548.44,301.13 548.77,300.90 549.10,300.67 549.43,300.44 549.76,300.20 550.09,299.97 550.42,299.74 550.75,299.50 551.08,299.27 551.41,299.04 551.74,298.80 552.07,298.57 552.40,298.34 552.73,298.10 553.06,297.89 553.39,297.69 553.72,297.48 554.05,297.28 554.38,297.08 554.71,296.88 555.04,296.68 555.37,296.48 555.70,296.28 556.03,296.08 556.36,295.88 556.69,295.68 557.02,295.49 557.35,295.32 557.68,295.15 558.01,294.98 558.34,294.81 558.67,294.64 559.00,294.46 559.33,294.29 559.66,294.12 559.99,293.95 560.32,293.78 560.65,293.61 560.98,293.41 561.31,293.18 561.65,292.95 561.98,292.72 562.31,292.48 562.64,292.25 562.97,292.02 563.30,291.79 563.63,291.56 563.96,291.33 564.29,291.10 564.62,290.87 564.95,290.59 565.28,290.27 565.61,289.95 565.94,289.62 566.27,289.30 566.60,288.98 566.93,288.65 567.26,288.33 567.59,288.01 567.92,287.68 568.25,287.36 568.58,287.04 568.91,286.77 569.24,286.57 569.57,286.36 569.90,286.16 570.23,285.95 570.56,285.75 570.89,285.54 571.22,285.34 571.55,285.13 571.88,284.93 572.21,284.72 572.54,284.52 572.87,284.33 573.20,284.16 573.53,283.99 573.86,283.82 574.19,283.65 574.52,283.48 574.86,283.31 575.19,283.14 575.52,282.97 575.85,282.81 576.18,282.64 576.51,282.47 576.84,282.30 577.17,282.13 577.50,281.96 577.83,281.79 578.16,281.62 578.49,281.45 578.82,281.28 579.15,281.11 579.48,280.94 579.81,280.77 580.14,280.60 580.47,280.43 580.80,280.29 581.13,280.17 581.46,280.06 581.79,279.95 582.12,279.83 582.45,279.72 582.78,279.60 583.11,279.49 583.44,279.38 583.77,279.26 584.10,279.15 584.43,279.03 584.76,278.93 585.09,278.84 585.42,278.75 585.75,278.66 586.08,278.57 586.41,278.48 586.74,278.39 587.07,278.29 587.40,278.20 587.73,278.11 588.07,278.02 588.40,277.93 588.73,277.77 589.06,277.53 589.39,277.29 589.72,277.05 590.05,276.82 590.38,276.58 590.71,276.34 591.04,276.10 591.37,275.87 591.70,275.63 592.03,275.39 592.36,275.15 592.69,274.90 593.02,274.62 593.35,274.35 593.68,274.08 594.01,273.81 594.34,273.53 594.67,273.26 595.00,272.99 595.33,272.71 595.66,272.44 595.99,272.17 596.32,271.90 596.65,271.64 596.98,271.40 597.31,271.16 597.64,270.92 597.97,270.68 598.30,270.44 598.63,270.20 598.96,269.96 599.29,269.72 599.62,269.48 599.95,269.24 600.28,269.00 600.61,268.80 600.94,268.64 601.28,268.49 601.61,268.33 601.94,268.18 602.27,268.03 602.60,267.87 602.93,267.72 603.26,267.56 603.59,267.41 603.92,267.25 604.25,267.10 604.58,266.82 604.91,266.42 605.24,266.01 605.57,265.61 605.90,265.21 606.23,264.81 606.56,264.41 606.89,264.01 607.22,263.60 607.55,263.20 607.88,262.80 608.21,262.40 608.54,262.08 608.87,261.85 609.20,261.62 609.53,261.39 609.86,261.16 610.19,260.93 610.52,260.70 610.85,260.47 611.18,260.24 611.51,260.01 611.84,259.77 612.17,259.54 612.50,259.35 612.83,259.19 613.16,259.03 613.49,258.87 613.82,258.71 614.15,258.55 614.49,258.40 614.82,258.24 615.15,258.08 615.48,257.92 615.81,257.76 616.14,257.60 616.47,257.41 616.80,257.19 617.13,256.98 617.46,256.76 617.79,256.54 618.12,256.32 618.45,256.10 618.78,255.88 619.11,255.66 619.44,255.45 619.77,255.23 620.10,255.01 620.43,254.76 620.76,254.47 621.09,254.18 621.42,253.89 621.75,253.60 622.08,253.31 622.41,253.02 622.74,252.73 623.07,252.44 623.40,252.15 623.73,251.86 624.06,251.57 624.39,251.26 624.72,250.91 625.05,250.57 625.38,250.23 625.71,249.88 626.04,249.54 626.37,249.20 626.70,248.85 627.03,248.51 627.36,248.17 627.70,247.82 628.03,247.48 628.36,247.19 628.69,246.96 629.02,246.72 629.35,246.49 629.68,246.26 630.01,246.02 630.34,245.79 630.67,245.56 631.00,245.32 631.33,245.09 631.66,244.86 631.99,244.62 632.32,244.35 632.65,244.04 632.98,243.73 633.31,243.42 633.64,243.11 633.97,242.80 634.30,242.49 634.63,242.19 634.96,241.88 635.29,241.57 635.62,241.26 635.95,240.95 636.28,240.65 636.61,240.36 636.94,240.08 637.27,239.79 637.60,239.50 637.93,239.22 638.26,238.93 638.59,238.64 638.92,238.36 639.25,238.07 639.58,237.79 639.91,237.50 640.24,237.22 640.57,236.96 640.91,236.70 641.24,236.44 641.57,236.18 641.90,235.91 642.23,235.65 642.56,235.39 642.89,235.13 643.22,234.87 643.55,234.60 643.88,234.34 644.21,234.09 644.54,233.84 644.87,233.60 645.20,233.35 645.53,233.11 645.86,232.86 646.19,232.61 646.52,232.37 646.85,232.12 647.18,231.88 647.51,231.63 647.84,231.39 648.17,231.14 648.50,230.89 648.83,230.65 649.16,230.40 649.49,230.16 649.82,229.91 650.15,229.67 650.48,229.42 650.81,229.17 651.14,228.93 651.47,228.68 651.80,228.44 652.13,228.15 652.46,227.81 652.79,227.48 653.12,227.15 653.45,226.81 653.78,226.48 654.12,226.14 654.45,225.81 654.78,225.48 655.11,225.14 655.44,224.81 655.77,224.47 656.10,224.19 656.43,223.95 656.76,223.71 657.09,223.48 657.42,223.24 657.75,223.00 658.08,222.76 658.41,222.53 658.74,222.29 659.07,222.05 659.40,221.81 659.73,221.58 660.06,221.31 660.39,221.01 660.72,220.71 661.05,220.41 661.38,220.11 661.71,219.81 662.04,219.51 662.37,219.21 662.70,218.91 663.03,218.61 663.36,218.31 663.69,218.01 664.02,217.67 664.35,217.31 664.68,216.95 665.01,216.58 665.34,216.22 665.67,215.86 666.00,215.49 666.33,215.13 666.66,214.76 666.99,214.40 667.33,214.04 667.66,213.67 667.99,213.35 668.32,213.07 668.65,212.79 668.98,212.51 669.31,212.23 669.64,211.95 669.97,211.66 670.30,211.38 670.63,211.10 670.96,210.82 671.29,210.54 671.62,210.26 671.95,209.97 672.28,209.67 672.61,209.37 672.94,209.07 673.27,208.77 673.60,208.48 673.93,208.18 674.26,207.88 674.59,207.58 674.92,207.28 675.25,206.98 675.58,206.68 675.91,206.30 676.24,205.84 676.57,205.38 676.90,204.92 677.23,204.46 677.56,204.00 677.89,203.53 678.22,203.07 678.55,202.61 678.88,202.15 679.21,201.69 679.54,201.23 679.87,200.84 680.20,200.52 680.54,200.20 680.87,199.88 681.20,199.56 681.53,199.24 681.86,198.92 682.19,198.60 682.52,198.28 682.85,197.97 683.18,197.65 683.51,197.33 683.84,197.03 684.17,196.77 684.50,196.50 684.83,196.24 685.16,195.97 685.49,195.70 685.82,195.44 686.15,195.17 686.48,194.91 686.81,194.64 687.14,194.37 687.47,194.11 687.80,193.78 688.13,193.38 688.46,192.98 688.79,192.58 689.12,192.18 689.45,191.78 689.78,191.38 690.11,190.98 690.44,190.58 690.77,190.18 691.10,189.78 691.43,189.39 691.76,189.01 692.09,188.66 692.42,188.31 692.75,187.96 693.08,187.61 693.41,187.26 693.75,186.91 694.08,186.56 694.41,186.21 694.74,185.86 695.07,185.51 695.40,185.16 695.73,184.83 696.06,184.53 696.39,184.23 696.72,183.93 697.05,183.63 697.38,183.33 697.71,183.03 698.04,182.73 698.37,182.43 698.70,182.13 699.03,181.83 699.36,181.53 699.69,181.24 700.02,180.95 700.35,180.67 700.68,180.38 701.01,180.09 701.34,179.81 701.67,179.52 702.00,179.23 702.33,178.95 702.66,178.66 702.99,178.38 703.32,178.09 703.65,177.77 703.98,177.43 704.31,177.08 704.64,176.74 704.97,176.39 705.30,176.05 705.63,175.70 705.96,175.36 706.29,175.01 706.62,174.67 706.96,174.33" fill="none" stroke="#000" stroke-width="1.1"/>
<g class="tl"><text x="433" y="341.15" text-anchor="end" style="font-size:7.5px">320</text><text x="433" y="308.57" text-anchor="end" style="font-size:7.5px">340</text><text x="433" y="275.99" text-anchor="end" style="font-size:7.5px">360</text><text x="433" y="243.41" text-anchor="end" style="font-size:7.5px">380</text><text x="433" y="210.83" text-anchor="end" style="font-size:7.5px">400</text><text x="433" y="178.25" text-anchor="end" style="font-size:7.5px">420</text><text x="455.80" y="368" text-anchor="middle">1960</text><text x="495.43" y="368" text-anchor="middle">1970</text><text x="535.06" y="368" text-anchor="middle">1980</text><text x="574.69" y="368" text-anchor="middle">1990</text><text x="614.32" y="368" text-anchor="middle">2000</text><text x="653.95" y="368" text-anchor="middle">2010</text><text x="693.58" y="368" text-anchor="middle">2020</text></g>
<text class="ttl" x="577.7" y="156.9" text-anchor="middle">Atmospheric CO<tspan class="sub" dy="1.5">2</tspan><tspan dy="-1.5"> at Mauna Loa Observatory</tspan></text>
<text class="yl" transform="translate(413 260) rotate(-90)" text-anchor="middle">CO<tspan class="sub" dy="1.2">2</tspan><tspan dy="-1.2"> mole fraction (ppm)</tspan></text>
<text class="yl" x="577.7" y="377.9" text-anchor="middle" style="font-size:8.2px">Year</text>
<text class="dt" transform="translate(727.1 343.4) rotate(-90)" text-anchor="middle">2023 June 05</text>
<text class="sc" x="443.8" y="178.1">Scripps Institution of Oceanography</text>
<text class="sc" x="443.8" y="188.7">NOAA Global Monitoring Laboratory</text>
<g transform="translate(337.9 343.5) scale(1.000)">
<circle r="10.9" fill="#1487d6"/>
<path d="M-10.1 -2.6 C -7 1.5, -4.5 3.6, -2.3 4.5 L 4.9 2.2 C 7 0.4, 9 -1.8, 10.5 -4.2 A 10.9 10.9 0 0 0 8.2 -7.2 L -7.8 -7.2 A 10.9 10.9 0 0 0 -10.1 -2.6 Z" fill="#fff"/>
<path d="M-0.5 3.4 L 4.9 2.2 L 3.5 3.3 Z" fill="#1487d6"/>
<path d="M-7.8 -7.2 A10.9 10.9 0 0 1 8.2 -7.2 C 7 -3.5, 4.5 -0.2, 1.7 1.8 C -1.5 0.6, -5.5 -2.8, -7.8 -7.2 Z" fill="#0f2a85"/>
<text x="0.2" y="-4.1" text-anchor="middle" font-family="DejaVu Sans" font-weight="bold" font-size="4.2" fill="#fff" textLength="8.8" lengthAdjust="spacingAndGlyphs">noaa</text>
</g>
<g transform="translate(702.7 343.4) scale(1.000)">
<circle r="10.9" fill="#1487d6"/>
<path d="M-10.1 -2.6 C -7 1.5, -4.5 3.6, -2.3 4.5 L 4.9 2.2 C 7 0.4, 9 -1.8, 10.5 -4.2 A 10.9 10.9 0 0 0 8.2 -7.2 L -7.8 -7.2 A 10.9 10.9 0 0 0 -10.1 -2.6 Z" fill="#fff"/>
<path d="M-0.5 3.4 L 4.9 2.2 L 3.5 3.3 Z" fill="#1487d6"/>
<path d="M-7.8 -7.2 A10.9 10.9 0 0 1 8.2 -7.2 C 7 -3.5, 4.5 -0.2, 1.7 1.8 C -1.5 0.6, -5.5 -2.8, -7.8 -7.2 Z" fill="#0f2a85"/>
<text x="0.2" y="-4.1" text-anchor="middle" font-family="DejaVu Sans" font-weight="bold" font-size="4.2" fill="#fff" textLength="8.8" lengthAdjust="spacingAndGlyphs">noaa</text>
</g>
<g id="scripps">
<defs><radialGradient id="gl" cx="0.45" cy="0.45" r="0.6"><stop offset="0" stop-color="#2f7fd6"/><stop offset="0.7" stop-color="#3460c4"/><stop offset="1" stop-color="#5b3aa0"/></radialGradient></defs>
<circle cx="632" cy="338.3" r="5.2" fill="url(#gl)"/>
<path d="M631.2 334.6c1.2-.3 2.3.3 2.4 1.3.1.9-.8 1.4-.5 2.2.4.8 1.6.9 1.7 2 .1 1-1 1.7-2 1.9.4-.9.2-1.7-.6-2.2-.9-.6-1.6-1.3-1.5-2.4.1-1.3-.7-1.8.5-2.8z" fill="#3a9c8c" opacity=".85"/>
<text x="638.8" y="337.4" font-family="Liberation Serif" font-size="5.6px" fill="#353b5e" textLength="22.4" lengthAdjust="spacingAndGlyphs">SCRIPPS</text>
<text x="662" y="337.4" font-family="Liberation Serif" font-size="2.8px" fill="#6a6e80" textLength="22.8" lengthAdjust="spacingAndGlyphs">INSTITUTION OF</text>
<text x="638.8" y="343.1" font-family="Liberation Serif" font-size="5.6px" fill="#353b5e" textLength="45.6" lengthAdjust="spacingAndGlyphs">OCEANOGRAPHY</text>
<text x="639" y="352.5" font-family="Liberation Serif" font-weight="bold" font-size="7.8px" fill="#2a3560" textLength="34.9" lengthAdjust="spacingAndGlyphs">UC San Diego</text>
<rect x="639" y="354" width="34.9" height="0.4" fill="#f1dfae"/>
</g>
</svg>
<svg class="ic" style="left:26px;top:391px;width:10.4px;height:10.4px" viewBox="0 0 10.4 10.4"><rect x=".5" y=".5" width="9.4" height="9.4" fill="#f4f8fc" stroke="#8eaed6"/><rect x="1.2" y="1.2" width="8" height="5.2" fill="#cde7fb"/><rect x="1.2" y="6.5" width="8" height="1.4" fill="#5fb53a"/><rect x="1.2" y="7.9" width="8" height="1.1" fill="#f8f8e6"/><circle cx="2.2" cy="2.2" r="1" fill="#f5b52e"/><rect x="5.5" y="4.6" width=".8" height="2" fill="#8a6a3a"/><ellipse cx="5.95" cy="3.75" rx="1.75" ry="1.95" fill="#6aa52e"/></svg>
<a class="lk" style="left:38.5px">PNG Version</a>
<svg class="ic" style="left:106px;top:391.8px;width:9px;height:9px" viewBox="0 0 9 9"><path d="M.5 .5H8.5V7L7 8.5H.5Z" fill="#fff" stroke="#9a9a9a"/><rect x=".5" y=".3" width="8" height="1.2" fill="#c8332e"/><path d="M3.5 1.6C3.9 3.9 3.3 5.9 2 7.9M3.8 3.6C4.5 5 5.6 5.8 7.2 5.9M6.4 3.4l.8.3" fill="none" stroke="#e4543f" stroke-width=".75"/><path d="M7 8.5V7H8.5Z" fill="#ccc"/></svg>
<a class="lk" style="left:118.5px">PDF Version</a>
<svg class="ic" style="left:392.4px;top:391px;width:10.4px;height:10.4px" viewBox="0 0 10.4 10.4"><rect x=".5" y=".5" width="9.4" height="9.4" fill="#f4f8fc" stroke="#8eaed6"/><rect x="1.2" y="1.2" width="8" height="5.2" fill="#cde7fb"/><rect x="1.2" y="6.5" width="8" height="1.4" fill="#5fb53a"/><rect x="1.2" y="7.9" width="8" height="1.1" fill="#f8f8e6"/><circle cx="2.2" cy="2.2" r="1" fill="#f5b52e"/><rect x="5.5" y="4.6" width=".8" height="2" fill="#8a6a3a"/><ellipse cx="5.95" cy="3.75" rx="1.75" ry="1.95" fill="#6aa52e"/></svg>
<a class="lk" style="left:404px">PNG Version</a>
<svg class="ic" style="left:472px;top:391.8px;width:9px;height:9px" viewBox="0 0 9 9"><path d="M.5 .5H8.5V7L7 8.5H.5Z" fill="#fff" stroke="#9a9a9a"/><rect x=".5" y=".3" width="8" height="1.2" fill="#c8332e"/><path d="M3.5 1.6C3.9 3.9 3.3 5.9 2 7.9M3.8 3.6C4.5 5 5.6 5.8 7.2 5.9M6.4 3.4l.8.3" fill="none" stroke="#e4543f" stroke-width=".75"/><path d="M7 8.5V7H8.5Z" fill="#ccc"/></svg>
<a class="lk" style="left:484px">PDF Version</a>
</body></html>
